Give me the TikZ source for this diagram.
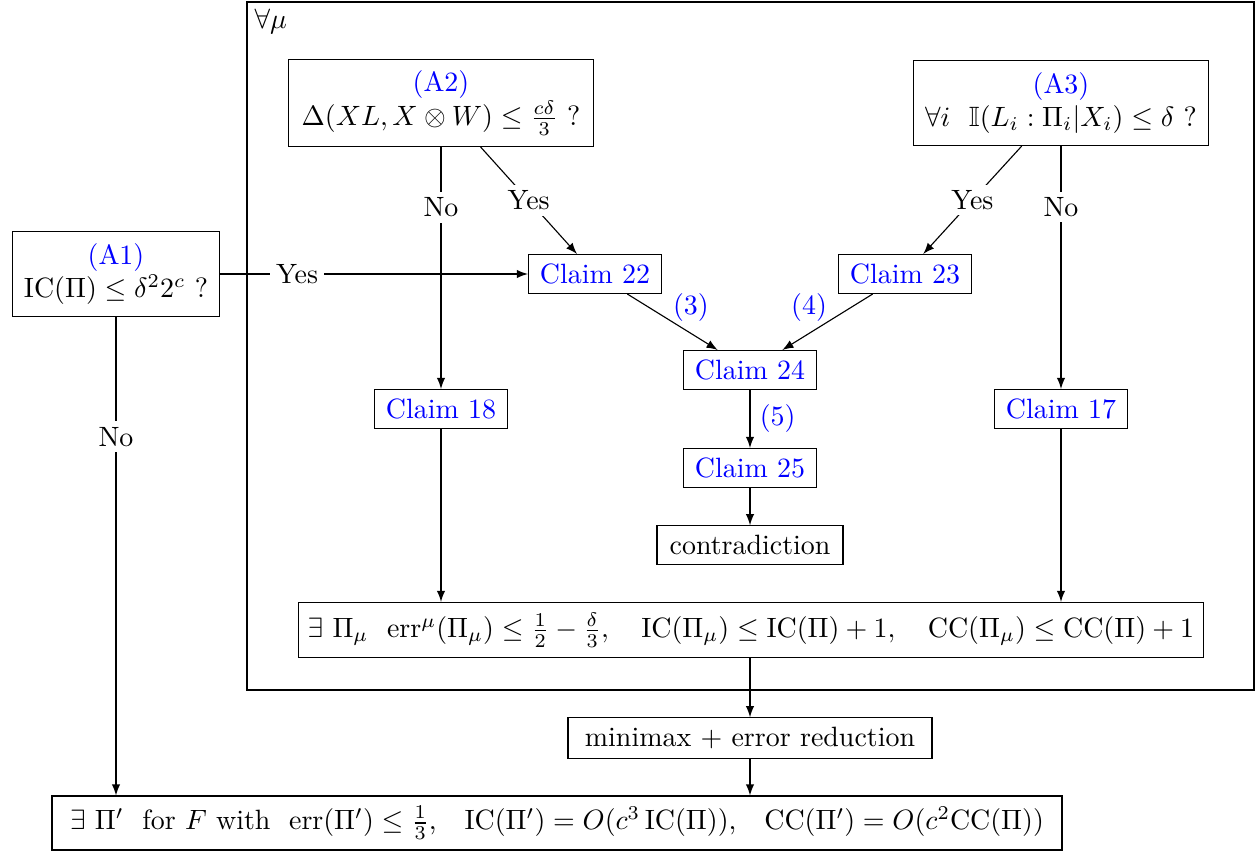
\documentclass[tikz,border=0pt]{standalone}
\usepackage{amsmath,amssymb}
\begin{document}
\begin{tikzpicture}[x=0.358pt,y=-0.358pt,
  box/.style={draw,align=center,inner sep=3.33pt},
  claim/.style={box,text=blue,minimum width=47.6pt,minimum height=13.4pt},
  qbox/.style={draw,align=center,inner sep=4pt,minimum height=30.5pt},
  lbl/.style={fill=white,inner sep=2pt},
  num/.style={text=blue,inner sep=0pt},
  arr/.style={-latex}]
\useasboundingbox (0,0) rectangle (1260,851);
\draw (247,2) rectangle (1254,690);
\node[anchor=west,inner sep=0pt] (mu) at (254,22) {$\forall\mu$};

\node[qbox,minimum width=109.5pt] (A2) at (441,103) {\textcolor{blue}{(A2)}\\ $\Delta(XL, X\otimes W)\le \frac{c\delta}{3}$ ?};
\node[qbox,minimum width=105.6pt] (A3) at (1061,103) {\textcolor{blue}{(A3)}\\ $\forall i\ \ \mathbb{I}(L_i : \Pi_i | X_i) \le \delta$ ?};
\node[qbox,minimum width=74.1pt] (A1) at (116,274) {\textcolor{blue}{(A1)}\\ $\mathrm{IC}(\Pi)\le\delta^2 2^c$ ?};

\node[claim] (C22) at (595,274) {Claim 22};
\node[claim] (C23) at (905,274) {Claim 23};
\node[claim] (C24) at (750,370) {Claim 24};
\node[claim] (C18) at (441,409) {Claim 18};
\node[claim] (C17) at (1061,409) {Claim 17};
\node[claim] (C25) at (750,468) {Claim 25};
\node[box,minimum width=66.6pt] (con) at (750,545) {contradiction};
\node[box,minimum width=324pt,minimum height=19.7pt] (err) at (751,630) {$\exists\ \Pi_\mu\ \ \mathrm{err}^\mu(\Pi_\mu)\le\frac12-\frac\delta3,\ \ \ \mathrm{IC}(\Pi_\mu)\le\mathrm{IC}(\Pi)+1,\ \ \ \mathrm{CC}(\Pi_\mu)\le\mathrm{CC}(\Pi)+1$};
\node[box,minimum width=130.3pt] (mm) at (750,738) {minimax + error reduction};
\node[box,minimum width=361.6pt,minimum height=19.3pt] (bot) at (557,823) {$\exists\ \Pi'$\ \ for $F$ with\ \ $\mathrm{err}(\Pi')\le\frac13$,\ \ \ $\mathrm{IC}(\Pi')=O(c^3\,\mathrm{IC}(\Pi))$,\quad $\mathrm{CC}(\Pi')=O(c^2\mathrm{CC}(\Pi))$};

\draw[arr] (A2) -- node[lbl,pos=0.25] {No} (C18);
\draw[arr] (A2) -- node[lbl,pos=0.5] {Yes} (C22);
\draw[arr] (A3) -- node[lbl,pos=0.5] {Yes} (C23);
\draw[arr] (A3) -- node[lbl,pos=0.25] {No} (C17);
\draw[arr] (A1) -- node[lbl,pos=0.25] {Yes} (C22);
\draw[arr] (A1) -- node[lbl,pos=0.25] {No} (A1 |- bot.north);
\draw[arr] (C22) -- node[num,midway,above right] {(3)} (C24);
\draw[arr] (C23) -- node[num,midway,above left] {(4)} (C24);
\draw[arr] (C24) -- node[num,midway,right=3.33pt] {(5)} (C25);
\draw[arr] (C25) -- (con);
\draw[arr] (C18) -- (C18 |- err.north);
\draw[arr] (C17) -- (C17 |- err.north);
\draw[arr] (err.south -| mm) -- (mm);
\draw[arr] (mm) -- (mm |- bot.north);
\end{tikzpicture}
\end{document}
